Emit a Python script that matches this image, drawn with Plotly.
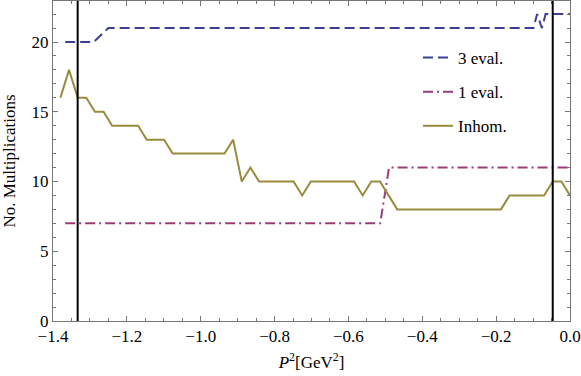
import plotly.graph_objects as go

# P^2 grid of the inhomogeneous curve
p2 = [-1.380, -1.3566, -1.3332, -1.3098, -1.2864, -1.2631, -1.2397, -1.2163, -1.1929, -1.1695,
      -1.1461, -1.1227, -1.0993, -1.0759, -1.0525, -1.0292, -1.0058, -0.9824, -0.9590, -0.9356,
      -0.9122, -0.8888, -0.8654, -0.8420, -0.8186, -0.7953, -0.7719, -0.7485, -0.7251, -0.7017,
      -0.6783, -0.6549, -0.6315, -0.6081, -0.5847, -0.5614, -0.5380, -0.5146, -0.4912, -0.4678,
      -0.4444, -0.4210, -0.3976, -0.3742, -0.3508, -0.3275, -0.3041, -0.2807, -0.2573, -0.2339,
      -0.2105, -0.1871, -0.1637, -0.1403, -0.1169, -0.0936, -0.0702, -0.0468, -0.0234, 0.0]
inhom = [16, 18, 16, 16, 15, 15, 14, 14, 14, 14,
         13, 13, 13, 12, 12, 12, 12, 12, 12, 12,
         13, 10, 11, 10, 10, 10, 10, 10, 9, 10,
         10, 10, 10, 10, 10, 9, 10, 10, 9, 8,
         8, 8, 8, 8, 8, 8, 8, 8, 8, 8,
         8, 8, 9, 9, 9, 9, 9, 10, 10, 9]

p2_3eval = [-1.367, -1.29, -1.25, -0.099, -0.089, -0.076, -0.066, 0.0]
eval3 = [20, 20, 21, 21, 22, 21, 22, 22]

p2_1eval = [-1.367, -0.514, -0.490, 0.0]
eval1 = [7, 7, 11, 11]

vlines = [-1.3332, -0.0468]

blue = 'rgb(61,61,153)'
pink = 'rgb(153,61,116)'
olive = 'rgb(153,139,61)'
font = 'Liberation Serif, Times New Roman, serif'

fig = go.Figure()

fig.add_trace(go.Scatter(
    x=p2_3eval, y=eval3, mode='lines',
    line=dict(color=blue, width=2, dash='10px,5px'),
    name='3 eval.', legendgroup='a'
))

fig.add_trace(go.Scatter(
    x=p2_1eval, y=eval1, mode='lines',
    line=dict(color=pink, width=2, dash='10px,4px,2px,4px'),
    name='1 eval.', legendgroup='b'
))

fig.add_trace(go.Scatter(
    x=p2, y=inhom, mode='lines',
    line=dict(color=olive, width=2),
    name='Inhom.', legendgroup='c'
))

# vertical markers
for xv in vlines:
    fig.add_shape(type='line', x0=xv, x1=xv, y0=0, y1=1,
                  xref='x', yref='paper',
                  line=dict(color='black', width=2))

axis_common = dict(
    showgrid=False, zeroline=False, automargin=False,
    showline=True, linecolor='#777', linewidth=1, mirror='ticks',
    ticks='inside', tickcolor='#777', ticklen=5, tickwidth=1,
    tickfont=dict(family=font, size=17, color='black'),
)

fig.update_layout(
    width=581, height=376,
    margin=dict(l=53, r=11, t=1, b=55),
    paper_bgcolor='white', plot_bgcolor='white',
    font=dict(family=font, size=17, color='black'),
    xaxis=dict(
        range=[-1.4, 0.0], dtick=0.2, tick0=0, tickformat='.1f',
        minor=dict(dtick=0.05, ticks='inside', ticklen=3, tickcolor='#777'),
        title=dict(text='<i>P</i><sup>2</sup>[GeV<sup>2</sup>]', standoff=10,
                   font=dict(family=font, size=17)),
        **axis_common
    ),
    yaxis=dict(
        range=[0, 22.94], dtick=5, tick0=0,
        minor=dict(dtick=1, ticks='inside', ticklen=3, tickcolor='#777'),
        title=dict(text='No. Multiplications', standoff=12,
                   font=dict(family=font, size=17)),
        **axis_common
    ),
    legend=dict(
        x=0.706, y=0.878, xanchor='left', yanchor='top',
        bgcolor='rgba(0,0,0,0)', tracegroupgap=9,
        font=dict(family=font, size=17, color='black'),
        itemwidth=30,
    ),
    showlegend=True,
)

fig.write_html("out.html", config=dict(displayModeBar=False),
               post_script="document.body.style.margin='0';")
